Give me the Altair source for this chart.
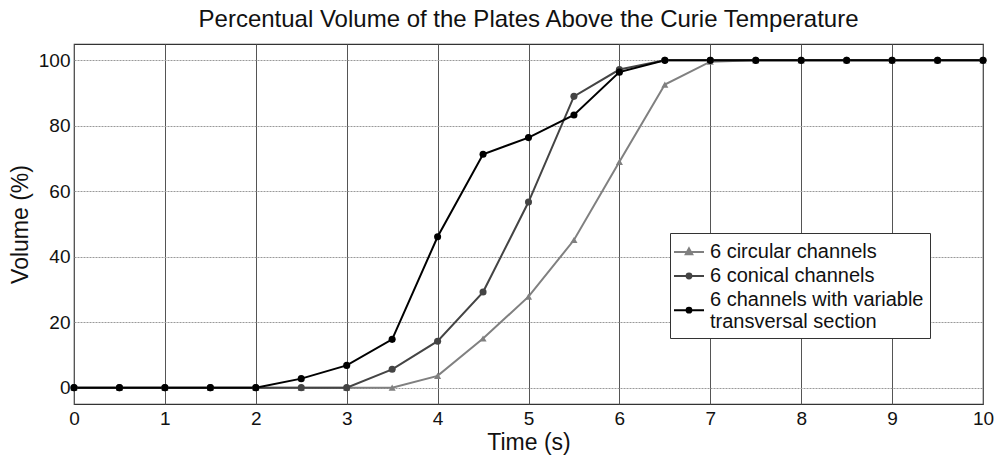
import altair as alt
import pandas as pd

times = [0, 0.5, 1, 1.5, 2, 2.5, 3, 3.5, 4, 4.5, 5, 5.5, 6, 6.5, 7, 7.5, 8, 8.5, 9, 9.5, 10]
circular = [0, 0, 0, 0, 0, 0, 0, 0, 3.6, 15, 27.8, 45.1, 69, 92.6, 99.6, 100, 100, 100, 100, 100, 100]
conical = [0, 0, 0, 0, 0, 0, 0, 5.6, 14.2, 29.2, 56.7, 89, 97.2, 100, 100, 100, 100, 100, 100, 100, 100]
variable = [0, 0, 0, 0, 0, 2.75, 6.8, 14.75, 46.1, 71.3, 76.4, 83.3, 96.4, 100, 100, 100, 100, 100, 100, 100, 100]

series_names = ["6 circular channels", "6 conical channels",
                "6 channels with variable transversal section"]
series_colors = ["#808080", "#444444", "#000000"]

# legend glyphs: short line with marker (third one lowered to sit between its two label lines)
legend_glyphs = [
    "M-1.25,0L1.25,0M0,-0.3L0.27,0.18L-0.27,0.18Z",
    "M-1.25,0L1.25,0M0.2,0A0.2,0.2,0,1,1,-0.2,0A0.2,0.2,0,1,1,0.2,0Z",
    "M-1.25,0.85L1.25,0.85M0.2,0.85A0.2,0.2,0,1,1,-0.2,0.85A0.2,0.2,0,1,1,0.2,0.85Z",
]

rows = []
for name, vals in zip(series_names, [circular, conical, variable]):
    for t, v in zip(times, vals):
        rows.append({"time": t, "volume": v, "series": name})
df = pd.DataFrame(rows)

FONT = "Liberation Sans"

x = alt.X("time:Q", title="Time (s)",
          scale=alt.Scale(domain=[0, 10], nice=False),
          axis=alt.Axis(values=list(range(0, 11)), format="d"))
y = alt.Y("volume:Q", title="Volume (%)",
          scale=alt.Scale(domain=[-5, 105], nice=False, zero=False),
          axis=alt.Axis(values=[0, 20, 40, 60, 80, 100]))

color_scale = alt.Scale(domain=series_names, range=series_colors)

legend = alt.Legend(
    title=None, orient="none", legendX=596, legendY=189,
    symbolSize=576, symbolStrokeWidth=2,
    labelExpr="datum.label == '6 channels with variable transversal section' ? ['6 channels with variable', 'transversal section'] : datum.label",
)

# layer that only carries the legend (its marks sit outside the clipped plot)
leg = alt.Chart(df).mark_point(filled=True, opacity=1, clip=True).encode(
    x=alt.value(-60), y=alt.value(-60),
    fill=alt.Fill("series:N", scale=color_scale, sort=series_names, legend=legend),
    stroke=alt.Stroke("series:N", scale=color_scale, sort=series_names, legend=legend),
    shape=alt.Shape("series:N", scale=alt.Scale(domain=series_names, range=legend_glyphs),
                    sort=series_names, legend=legend),
)

lines = alt.Chart(df).mark_line(strokeWidth=2).encode(
    x=x, y=y,
    stroke=alt.Stroke("series:N", scale=color_scale, sort=series_names, legend=None),
    detail="series:N",
)

tri = alt.Chart(df).transform_filter(
    alt.datum.series == series_names[0]
).mark_point(filled=True, opacity=1, size=50, shape="triangle-up").encode(
    x=x, y=y,
    fill=alt.Fill("series:N", scale=color_scale, sort=series_names, legend=None),
)

circ = alt.Chart(df).transform_filter(
    alt.datum.series != series_names[0]
).mark_circle(opacity=1, size=50).encode(
    x=x, y=y,
    fill=alt.Fill("series:N", scale=color_scale, sort=series_names, legend=None),
)

chart = alt.layer(leg, lines, tri, circ).properties(
    width=909, height=360,
    title=alt.TitleParams("Percentual Volume of the Plates Above the Curie Temperature",
                          anchor="middle", fontSize=24, font=FONT, fontWeight="normal",
                          color="#111111", offset=12),
    autosize=alt.AutoSizeParams(type="none"),
    padding={"left": 74, "top": 44, "right": 13, "bottom": 53},
).configure_view(
    stroke="#333333", strokeWidth=1.2
).configure_axis(
    labelFont=FONT, titleFont=FONT, labelFontSize=19, titleFontSize=23,
    labelColor="#111111", titleColor="#111111", titleFontWeight="normal",
    domain=False, ticks=False, grid=True, gridWidth=1, labelFlush=False,
).configure_axisX(
    gridColor="#555555", gridOpacity=1, labelPadding=5, titlePadding=3,
).configure_axisY(
    gridColor="#999999", gridDash=[2, 1], gridOpacity=1, labelPadding=4, titlePadding=6,
).configure_legend(
    labelFont=FONT, labelFontSize=20, labelColor="#111111", labelLimit=400,
    strokeColor="#333333", fillColor="white", padding=6, rowPadding=1,
    labelOffset=8,
)

chart.save("out.html", embed_options={"renderer": "svg", "actions": False})
